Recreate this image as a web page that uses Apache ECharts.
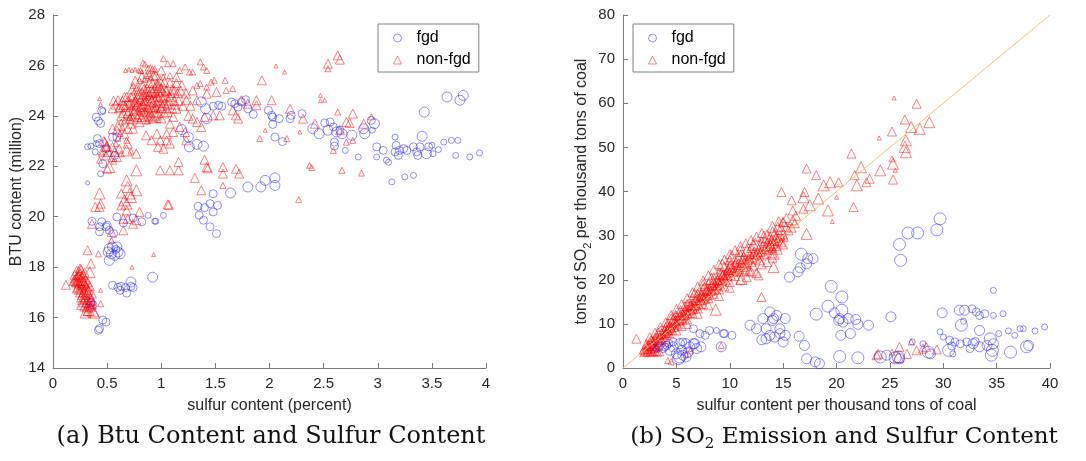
<!DOCTYPE html>
<html>
<head>
<meta charset="utf-8">
<script src="https://cdn.jsdelivr.net/npm/echarts@6/dist/echarts.min.js"></script>
<style>html,body{margin:0;padding:0;background:#fff;}#c{width:1086px;height:461px;}</style>
</head>
<body>
<div id="c"></div>
<script>
// ---- DATA ----  [x, y, weight]
const seriesNames = ['fgd', 'non-fgd'];
const leftXTicks = [0, 0.5, 1, 1.5, 2, 2.5, 3, 3.5, 4];
const leftYTicks = [14, 16, 18, 20, 22, 24, 26, 28];
const rightXTicks = [0, 5, 10, 15, 20, 25, 30, 35, 40];
const rightYTicks = [0, 10, 20, 30, 40, 50, 60, 70, 80];

const leftFgd = [
[0.32,22.77,2],[0.35,22.8,2],[0.40,22.9,2],[0.41,23.1,3],[0.39,22.57,2],[0.40,23.95,3],[0.42,23.8,3],[0.44,23.7,3],[0.45,24.2,3],[0.46,24.2,2],[0.43,22.9,3],[0.46,22.1,3],[0.44,21.7,2],[0.32,21.34,1],[0.49,22.7,3],[0.55,23.16,3],[0.59,23.16,3],[0.57,22.43,3],
[0.36,19.82,3],[0.43,19.6,3],[0.45,19.8,3],[0.49,19.6,3],[0.5,19.66,3],[0.43,19.4,3],[0.52,19.46,3],[0.56,19.33,3],[0.59,19.99,3],[0.65,19.75,3],[0.74,19.95,3],[0.82,19.8,3],[0.88,20.05,2],[0.94,19.82,2],[0.95,19.82,2],[1.02,20.05,2],
[0.52,18.73,4],[0.55,18.8,4],[0.59,18.8,4],[0.60,18.6,4],[0.54,18.53,4],[0.52,18.27,4],[0.62,18.53,4],[0.57,18.47,4],[0.51,18.6,4],[0.58,18.7,3],
[0.55,17.28,3],[0.6,17.2,3],[0.63,17.24,3],[0.62,17.08,3],[0.67,17.19,3],[0.68,16.97,3],[0.72,17.41,4],[0.74,17.19,3],[0.72,17.24,3],[0.92,17.6,4],
[0.35,16.6,3],[0.37,16.5,3],[0.46,15.9,3],[0.49,15.82,3],[0.42,15.5,3],[0.43,15.56,3],
[1.34,20.41,3],[1.40,20.36,3],[1.45,20.52,3],[1.48,20.19,3],[1.52,20.45,3],[1.48,20.91,3],[1.35,20.06,3],[1.39,19.86,3],[1.45,19.6,3],[1.51,19.33,3],[1.64,20.94,4],[1.80,21.18,4],[1.92,21.18,4],[1.96,21.44,4],[2.05,21.54,4],[2.05,21.24,4],
[1.19,23.45,4],[1.25,23.16,4],[1.26,22.77,4],[1.33,22.87,4],[1.39,22.8,4],[1.37,24.55,4],[1.41,24.28,4],[1.42,23.89,4],[1.48,24.38,3],[1.53,24.42,3],[1.56,24.38,3],[1.65,24.55,3],[1.68,24.48,3],[1.71,24.35,3],[1.74,24.55,3],[1.78,24.64,3],[1.80,24.28,3],[1.85,24.06,3],[1.99,24.22,3],[2.02,24.02,3],[2.03,23.95,3],[2.03,23.66,3],[2.05,23.16,3],[2.09,23.89,3],[2.12,22.98,3],[2.19,23.89,3],[2.20,24.02,3],[2.30,24.09,3],
[2.40,23.49,4],[2.46,23.29,4],[2.51,23.72,3],[2.56,23.76,3],[2.54,23.43,4],[2.59,23.56,3],[2.62,23.36,4],[2.65,23.43,3],[2.67,23.29,4],[2.60,22.96,3],[2.60,22.8,3],[2.76,23.23,4],[2.70,22.63,2],[2.87,23.49,4],[2.88,23.29,4],[2.94,23.82,3],[2.97,23.69,4],[2.95,23.43,2],[2.82,22.37,2],[2.99,22.77,3],[2.99,22.37,2],
[3.05,22.63,3],[3.08,22.24,2],[3.10,22.16,2],[3.13,21.38,2],[3.16,23.16,2],[3.17,22.83,3],[3.16,22.57,3],[3.19,22.43,3],[3.20,22.63,3],[3.24,22.7,3],[3.25,21.58,2],[3.27,22.63,3],[3.33,21.64,2],[3.33,22.77,3],[3.36,22.57,3],[3.37,22.43,3],[3.39,22.77,3],[3.41,23.19,4],[3.43,24.15,4],[3.45,22.5,4],[3.47,22.77,3],[3.50,22.83,2],[3.51,22.5,2],[3.56,22.66,2],[3.61,22.96,2],[3.64,24.75,4],[3.68,23.03,2],[3.72,22.43,2],[3.74,23.03,2],[3.76,24.62,4],[3.79,24.81,4],[3.85,22.37,2],[3.94,22.53,2]
];

const leftNonFgd = [
// low cluster
[0.12,17.3,3],[0.2,17.5,3],[0.22,17.6,3],[0.22,17.4,3],[0.24,17.7,3],[0.25,17.5,4],[0.26,17.3,3],[0.27,17.6,3],[0.28,17.4,4],[0.23,17.2,3],[0.25,17.0,3],[0.27,16.9,3],[0.29,17.1,3],[0.3,17.5,3],[0.3,16.8,3],[0.32,16.7,3],[0.33,16.9,3],[0.34,16.6,3],[0.35,16.8,3],[0.36,16.5,3],[0.28,16.6,3],[0.26,16.5,3],[0.31,16.4,3],[0.33,16.3,4],[0.38,16.2,4],[0.24,17.9,2],[0.21,17.4,3],[0.29,17.8,3],[0.31,17.2,3],[0.26,17.9,3],[0.23,17.65,3],[0.27,17.25,3],[0.32,17.0,3],[0.35,16.7,3],[0.37,16.6,2],[0.3,16.95,3],
[0.21,17.55,3],[0.24,17.35,3],[0.26,17.15,3],[0.28,17.0,3],[0.29,16.75,3],[0.31,16.6,3],[0.25,17.75,3],[0.27,17.45,3],[0.33,17.1,3],[0.34,16.45,3],[0.23,17.45,3],[0.29,17.35,3],
[0.19,17.45,3],[0.2,17.7,3],[0.22,17.85,3],[0.25,17.95,3],[0.28,17.7,3],[0.3,17.3,3],[0.32,17.4,3],[0.24,17.1,3],[0.26,16.8,3],[0.29,16.45,3],[0.32,16.25,3],[0.35,16.4,3],[0.36,16.95,3],[0.34,17.25,3],[0.22,17.15,3],[0.27,16.7,3],[0.3,16.2,4],[0.37,16.25,4],[0.33,16.55,3],
[0.32,18.67,3],[0.35,18.14,3],[0.34,17.8,4],[0.42,18.53,2],[0.44,16.55,2],[0.44,17.08,1],
// middle left
[0.36,19.72,3],[0.39,20.39,3],[0.43,20.92,4],[0.44,20.52,3],[0.43,20.39,3],
[0.48,22.96,3],[0.49,22.77,3],[0.46,22.63,3],[0.51,22.57,3],[0.49,22.43,3],[0.45,22.5,2],[0.52,21.97,4],[0.5,21.9,3],[0.55,22.77,3],[0.57,22.57,3],[0.59,22.37,3],[0.55,22.37,3],[0.43,22.24,2],[0.43,24.68,1],[0.44,24.46,1],[0.47,23.0,3],[0.5,22.8,3],
[0.60,24.62,3],[0.62,24.35,3],[0.65,24.42,3],[0.68,24.75,3],
[0.59,23.43,3],[0.55,23.49,3],[0.6,23.62,3],[0.63,23.76,2],[0.66,23.29,3],[0.68,23.03,2],[0.69,23.49,3],[0.72,23.69,3],[0.74,23.49,3],[0.71,23.89,3],[0.69,24.09,3],
[0.68,22.63,4],[0.77,22.5,3],[0.77,21.84,4],[0.68,21.44,4],[0.69,21.18,4],[0.63,20.92,3],[0.71,20.92,4],[0.77,21.05,4],[0.66,20.65,4],[0.72,20.78,4],[0.63,20.45,3],[0.68,20.52,4],[0.68,20.25,3],[0.65,19.92,3],[0.69,19.92,3],[0.74,19.72,3],[0.80,20.19,3],[0.77,19.86,3],[0.65,19.46,3],[0.54,19.06,2],[0.54,19.4,3],[1.06,20.49,3],[1.07,20.47,3],[0.93,18.5,1],[0.73,18.0,1],
[0.58,22.9,2],[0.6,23.1,2],[0.62,23.3,2],[0.64,23.55,2],[0.66,23.8,2],[0.61,22.7,3],[0.56,22.2,2],[0.63,22.5,2],[0.69,22.9,3],[0.72,22.6,2],
// dense core
[0.70,24.2,3],[0.72,24.5,3],[0.74,24.8,3],[0.75,24.1,4],[0.77,24.4,3],[0.78,24.7,4],[0.79,25.0,3],[0.8,24.3,4],[0.81,24.6,3],[0.82,24.9,4],[0.83,25.2,3],[0.84,24.2,3],[0.85,24.5,4],[0.86,24.8,3],[0.87,25.1,3],[0.88,24.0,3],[0.89,24.4,4],[0.9,24.7,3],[0.91,25.0,4],[0.92,25.3,3],[0.93,24.3,3],[0.94,24.6,4],[0.95,24.9,3],[0.96,25.2,3],[0.97,24.1,3],[0.98,24.5,3],[0.99,24.8,4],[1.0,25.1,3],[1.01,24.4,3],[1.02,24.7,3],[1.04,25.0,3],[1.05,24.3,3],[1.07,24.6,3],[1.09,24.9,3],
[0.73,24.35,2],[0.76,24.65,2],[0.79,24.25,2],[0.83,24.55,2],[0.86,24.35,2],[0.88,24.75,2],[0.91,24.45,2],[0.93,24.85,2],[0.96,24.55,2],[0.98,24.25,2],[0.84,24.9,2],[0.8,25.4,2],[0.77,25.1,2],[0.74,25.2,2],[0.85,25.45,2],[0.9,25.5,2],[0.95,25.6,3],[0.82,23.95,3],[0.92,23.9,3],[0.87,23.8,2],[0.78,23.95,3],[0.71,23.95,2],[0.97,23.85,2],[1.03,24.1,3],[1.1,24.3,3],[1.12,24.6,3],[1.15,24.9,3],[1.14,25.3,3],[1.08,25.3,3],[0.99,25.4,3],[0.86,25.6,2],[0.81,25.8,2],[0.88,25.9,2],[0.94,25.85,2],[0.69,24.6,3],[0.67,24.35,3],[0.65,24.1,3],[0.72,24.0,3],
[0.70,24.45,3],[0.72,24.75,3],[0.73,25.05,3],[0.75,24.55,3],[0.76,24.25,4],[0.78,24.45,3],[0.79,24.85,3],[0.8,24.05,3],[0.81,24.35,3],[0.82,24.75,3],[0.83,24.4,4],[0.84,25.05,3],[0.85,24.15,3],[0.86,24.6,3],[0.87,24.95,3],[0.88,24.3,3],[0.89,24.85,3],[0.9,24.1,3],[0.91,24.6,4],[0.92,24.95,3],[0.93,24.15,3],[0.94,25.1,3],[0.95,24.35,3],[0.96,24.75,3],[0.97,25.0,3],[0.98,24.65,4],[1.0,24.3,3],[1.01,24.95,3],[1.03,24.5,3],[1.04,24.8,3],[1.06,24.45,3],[1.08,24.75,3],[1.1,25.05,3],[1.12,25.0,3],[1.13,24.45,3],[1.16,24.6,3],[1.18,25.0,3],[1.2,24.4,3],[1.25,24.0,3],[1.27,24.4,3],[0.74,23.9,4],[0.8,23.75,3],[0.85,23.9,4],[0.9,23.95,3],[0.95,24.05,4],[1.0,23.9,3],[0.63,24.0,3],[0.61,24.3,3],[0.64,24.6,3],[0.66,24.75,3],[0.58,24.45,3],[0.56,24.6,3],[0.55,24.3,3],[0.76,25.4,3],[0.82,25.55,3],[0.89,25.3,3],[0.93,25.6,3],[0.98,25.2,3],[1.03,25.35,3],[0.9,25.85,3],[0.85,26.05,2],[1.0,25.8,3],
[0.67,25.8,1],[0.7,25.85,1],[0.73,25.8,1],[0.76,25.85,1],[0.79,25.8,1],[0.82,25.75,1],
// upper band
[0.83,26.1,2],[1.02,26.27,2],[1.06,26.07,2],[1.11,26.07,2],[1.22,25.94,2],[1.36,26.14,2],[1.39,25.94,2],[1.42,25.8,2],[1.46,25.34,2],[1.29,25.74,2],[1.26,25.74,2],[1.17,25.8,2],[1.08,25.6,2],[1.02,25.54,2],[0.92,25.87,2],[0.89,25.67,2],[0.96,25.28,3],[1.05,25.0,3],[1.14,25.54,3],[1.19,25.21,3],[1.23,24.88,3],[1.29,25.01,3],[1.33,25.21,2],[1.36,25.28,2],[1.42,25.14,2],[1.49,25.41,2],[1.59,25.41,2],[1.60,25.01,2],[1.66,25.08,2],[1.74,24.62,3],[1.88,24.62,3],[1.93,25.41,3],[2.02,24.62,3],[2.06,25.98,1],[2.14,25.74,1],[2.19,24.28,3],[2.31,23.89,3],[2.42,23.69,3],[2.47,24.81,1],[2.51,24.62,1],[2.54,26.07,3],[2.54,25.87,2],[2.63,26.4,3],[2.65,26.23,3],[2.63,24.15,2],[2.77,24.09,3],[2.71,23.76,3],[2.74,23.72,3],[2.65,23.43,3],[2.71,22.96,2],[2.77,23.03,2],[2.87,23.69,3],[2.94,23.96,2],[2.85,21.73,2],[2.67,21.84,2],[2.37,22.04,2],[2.39,21.95,2],[2.27,20.68,2],[1.91,23.1,2],[1.96,23.43,1],[2.16,23.1,2],[2.28,23.36,1],[2.59,22.63,2],[2.47,24.6,1],
// mid area
[0.99,21.84,3],[1.08,21.84,3],[1.16,21.84,3],[1.16,22.17,3],[1.31,21.54,3],[1.37,21.05,3],[1.40,22.26,3],[1.42,21.97,3],[1.43,21.92,3],[1.57,21.97,3],[1.57,21.71,3],[1.57,21.24,2],[1.69,21.9,3],[1.72,21.71,3],[1.23,23.03,3],[1.22,23.36,3],[1.05,23.29,3],[1.05,23.03,3],[0.99,23.03,3],[0.97,22.77,3],[1.02,22.7,3],[1.08,22.9,3],[0.91,23.03,3],[0.86,23.23,3],[0.96,23.29,3],[1.11,23.36,3],[1.17,23.56,3],[1.29,23.89,3],[1.33,23.76,3],[1.37,23.56,3],[1.40,23.96,3],[1.48,24.02,3],[1.54,24.02,3],[1.11,23.96,3],[1.06,24.15,3],[1.14,24.28,3],[1.23,24.62,3],[1.08,23.69,3],[1.33,24.62,3],[1.42,24.88,3],[1.51,24.95,3],[1.66,24.22,3],[1.69,24.02,3],[1.71,23.89,3],[1.80,24.48,3],[1.88,24.42,3]
];

const rightFgd = [
[29.7,33.8,5],[29.4,31.3,5],[27.6,30.6,5],[26.7,30.6,5],[25.9,28.0,5],[26.0,24.4,5],
[16.7,25.8,5],[17.3,24.8,4],[17.8,24.8,4],[17.2,23.6,4],[16.6,22.7,4],[16.4,21.8,4],[15.6,20.6,4],
[19.5,18.5,5],[20.5,16.1,5],[19.2,14.0,5],[20.5,13.1,5],[19.8,12.5,4],[18.1,12.2,5],[20.3,11.2,4],[20.6,10.4,4],[21.1,11.2,4],[21.8,11.0,4],[22.0,9.9,4],[23.0,9.7,4],[20.4,7.4,4],[21.3,7.8,4],[20.2,10.8,4],
[25.1,11.6,4],
[29.9,12.5,4],[31.5,13.1,4],[32.0,13.1,4],[32.7,13.4,3],[33.1,12.7,3],[33.4,11.9,3],[33.9,12.3,3],[34.7,17.6,2],[34.7,11.9,2],[35.6,12.3,2],[31.7,9.7,5],[33.4,8.5,4],[34.4,6.6,5],[35.2,7.8,2],[36.1,8.4,2],[36.7,7.4,2],[37.2,8.9,2],[37.5,8.9,2],[38.6,8.4,2],[39.5,9.3,2],[29.7,8.2,2],[30.0,7.0,2],[30.6,6.3,3],[31.1,5.9,3],[31.6,5.5,3],[32.2,5.9,3],[32.8,5.5,4],[33.4,4.8,4],[34.1,5.1,4],[34.7,5.5,4],[32.5,4.4,3],[30.5,4.0,5],[30.9,3.2,2],[34.6,4.0,5],[34.5,2.9,5],[36.3,3.6,5],[37.8,4.8,5],[38.0,5.1,4],[31.9,10.6,2],[30.8,5.0,3],[33.0,6.0,3],
[27.1,5.9,2],[28.1,5.5,2],[28.6,3.6,5],[28.8,3.2,4],[25.8,2.5,5],[25.5,2.3,5],[25.9,2.1,4],[24.7,2.9,4],[24.1,2.5,5],[22.0,2.3,5],[20.3,2.6,5],[18.4,1.0,4],[18.0,1.4,4],[17.2,2.1,4],[17.0,5.1,4],[16.5,7.2,4],
[11.9,9.7,4],[12.5,8.9,4],[13.1,11.2,4],[13.75,12.7,4],[14.1,11.2,4],[14.4,11.9,4],[15.2,11.2,4],[13.4,8.9,4],[14.7,8.9,4],[13.75,7.4,4],[14.2,7.0,4],[14.7,7.8,4],[15.2,7.4,4],[15.0,5.9,4],[13.4,6.6,4],[13.0,6.4,4],[14.0,10.8,4],
[6.6,8.9,3],[7.2,7.8,3],[7.7,7.4,3],[8.1,8.5,3],[8.75,8.5,2],[9.4,7.8,3],[9.5,7.8,3],[10.2,7.4,3],[9.2,4.8,4],[7.3,4.8,4],[6.7,5.5,4],[5.9,5.5,4],[5.3,5.5,4],[4.7,4.8,4],[4.1,5.1,3],[3.75,4.4,3],[4.4,4.0,4],[5.0,3.2,4],[5.3,2.5,5],[5.2,2.1,5],[5.6,2.9,4],[6.1,3.6,4],[6.25,4.8,4],[6.6,5.5,4],[4.7,5.9,3],[5.6,5.9,3],[3.4,4.8,3],[3.1,4.4,2],[6.9,4.4,4],[5.5,4.0,4],[5.9,2.5,4],[4.3,5.6,3],[3.9,4.8,3]
];

const rightNonFgd = [
[1.25,6.65,3],[1.8,3.8,2],[2.0,4.3,3],[2.1,3.9,3],[2.2,4.8,3],[2.3,4.4,3],[2.4,5.2,3],[2.5,4.6,2],[2.6,5.5,3],[2.7,5.0,3],[2.8,6.0,3],[2.9,5.4,3],[3.0,6.4,3],[3.1,5.8,2],[3.2,6.9,3],[3.3,6.3,3],[3.4,7.3,2],[2.3,3.7,3],[2.8,3.6,3],[3.2,3.7,3],[2.0,3.6,3],[2.6,3.8,3],[3.0,3.9,3],[3.4,3.8,3],[2.5,6.2,2],[3.0,7.2,2],[3.5,6.8,3],[3.6,7.8,3],[3.7,7.2,2],[3.9,8.4,3],[4.0,7.9,3],[4.1,9.0,2],[4.2,8.5,3],[4.4,9.6,3],[4.5,9.0,3],[4.6,10.3,3],[4.7,9.5,2],[4.9,10.8,3],[5.0,10.1,3],[5.1,11.4,2],[5.3,10.9,3],[5.4,12.0,3],[5.5,11.3,3],[5.6,12.6,2],[5.8,12.1,3],[5.9,13.0,3],[6.0,12.5,3],[6.1,13.6,2],[6.3,13.2,3],[6.4,14.3,3],[6.5,13.7,3],[6.6,14.9,2],[6.8,14.2,3],[6.9,15.4,3],[7.0,14.8,3],[7.1,16.0,2],[7.3,15.4,3],[7.4,16.6,3],[7.5,16.0,3],[7.6,17.1,2],[7.8,16.5,3],[7.9,17.8,3],[8.0,17.1,3],[8.1,18.3,2],[8.3,17.6,3],[8.4,18.9,3],[8.5,18.2,3],[8.6,19.5,2],[8.8,18.8,3],[8.9,20.0,3],[9.0,19.3,3],[9.1,20.6,2],[9.3,20.0,3],[9.4,21.2,3],[9.5,20.5,3],[9.6,21.7,2],[9.8,21.0,3],[9.9,22.3,3],[10.0,21.6,3],[10.2,22.8,3],[10.4,22.2,3],[10.5,23.4,3],[10.7,22.8,3],[10.8,24.0,2],[11.0,23.3,3],[11.2,24.6,3],[11.4,23.9,3],[11.5,25.2,2],[11.7,24.5,3],[11.9,25.8,3],[12.1,25.1,3],[12.3,26.4,3],[12.5,25.7,3],[12.7,27.0,3],[12.9,26.3,3],[13.1,27.6,3],[13.3,27.0,3],[13.5,28.3,3],[13.7,27.6,3],[13.9,28.9,3],[14.1,28.2,3],[14.3,29.6,3],[14.5,28.9,3],[14.7,30.2,3],[14.9,29.6,2],
[5.0,12.2,2],[6.0,14.8,2],[7.0,17.2,2],[8.0,19.6,2],[9.0,22.0,2],[10.0,24.5,3],[11.0,26.0,2],[12.0,27.2,3],[13.0,29.0,2],[14.0,31.0,3],[4.5,11.2,3],[3.5,8.5,3],[8.5,20.8,2],[9.5,23.0,3],[7.5,18.3,2],[6.5,16.2,2],[13.5,30.3,3],[14.5,32.0,3],[15.0,33.0,3],
[6.0,11.0,3],[7.5,14.5,3],[9.0,17.8,3],[10.5,20.8,3],[11.8,22.0,3],[12.5,21.5,3],[13.5,24.0,3],[14.0,25.0,3],[11.0,21.5,2],[8.5,16.8,3],[12.2,23.2,3],[5.5,9.5,3],
[2.2,5.5,3],[2.4,4.0,3],[2.6,4.3,3],[2.7,6.3,3],[2.9,4.6,3],[3.1,4.9,3],[3.3,5.3,3],[3.5,5.9,3],[3.6,6.4,3],[3.8,7.0,3],[3.9,7.6,3],[4.1,8.1,3],[4.3,7.9,3],[4.3,9.1,3],[4.6,8.6,3],[4.8,9.3,3],[4.8,10.4,3],[5.1,9.8,3],[5.2,10.7,3],[5.3,11.8,3],[5.6,11.0,3],[5.7,11.9,3],[5.8,13.1,3],[6.1,12.2,3],[6.2,13.0,3],[6.3,14.2,3],[6.6,13.3,3],[6.7,14.1,3],[6.8,15.3,3],[7.1,14.4,3],[7.2,15.3,3],[7.3,16.4,3],[7.6,15.6,3],[7.7,16.3,3],[7.8,17.5,3],[8.1,16.6,3],[8.2,17.5,3],[8.3,18.7,3],[8.6,17.8,3],[8.7,18.6,3],[8.8,19.9,3],[9.1,18.9,3],[9.2,19.7,3],[9.3,21.0,3],[9.6,20.0,3],[9.7,20.8,3],[9.8,22.2,3],[10.1,21.0,3],[10.1,23.5,3],[10.3,21.8,3],[10.6,22.0,3],[10.6,24.0,3],[10.9,22.5,3],[11.1,23.8,3],[11.3,22.9,3],[11.3,25.3,3],[11.6,23.6,3],[11.8,24.8,3],[12.0,24.0,3],[12.2,25.9,3],[12.4,24.8,3],[12.6,26.2,3],[12.8,25.5,3],[13.0,26.6,3],[13.2,25.9,3],[13.4,27.4,3],[13.6,26.8,3],[13.8,28.0,3],[14.0,27.2,3],[14.2,28.8,3],[14.4,27.7,3],[14.6,29.4,3],[14.8,28.5,3],[15.0,30.3,3],[15.2,29.4,2],[10.0,19.5,3],[9.5,18.5,3],[8.0,15.8,3],[7.0,13.5,3],[6.5,12.4,3],[11.5,22.3,3],[12.8,24.4,3],[13.3,28.8,3],[12.2,27.9,4],[11.0,26.5,4],[10.2,25.3,4],[9.3,23.4,4],[8.3,20.2,4],[7.5,19.0,3],[6.7,17.0,3],[5.8,14.0,3],[4.9,12.0,3],[4.2,10.2,3],[14.8,31.5,4],[14.2,30.3,4],[13.8,29.5,4],
[2.5,7.0,3],[3.0,8.0,3],[3.5,9.3,3],[4.0,10.4,3],[4.5,12.0,3],[5.0,13.4,3],[5.5,14.5,3],[6.0,15.8,3],[6.5,17.2,3],[7.0,18.5,3],[7.5,19.8,3],[8.0,21.0,3],[8.5,22.3,3],[9.0,23.5,3],[9.5,24.6,3],[10.0,25.8,3],[10.5,26.7,3],[11.0,27.6,3],[11.5,28.3,3],[12.0,29.0,3],[12.5,29.8,3],[13.0,30.6,3],
[3.0,4.6,3],[4.0,6.5,3],[5.0,8.5,3],[6.0,10.0,3],[7.0,12.3,3],[8.0,14.2,3],[9.0,16.3,3],[10.0,18.2,3],[11.0,20.0,3],[12.0,21.8,3],[13.0,23.5,3],[14.0,26.0,3],[14.5,26.8,3],[15.0,28.0,3],
[3.3,7.8,4],[4.0,9.0,4],[4.7,10.9,4],[5.4,12.9,4],[6.1,14.3,4],[6.9,16.2,4],[7.6,18.0,4],[8.4,19.5,4],[9.2,21.4,4],[10.0,22.9,4],[10.8,24.9,4],[11.6,26.6,4],[12.4,28.2,4],[13.2,29.8,4],[14.0,32.0,4],[15.3,34.0,3],[14.6,33.3,3],[15.8,31.8,3],[16.1,32.8,3],
[8.69,13.2,4],[11.1,20.2,4],[11.6,20.6,3],[14.1,22.9,4],[12.7,21.0,3],[14.1,25.9,4],[13.8,27.8,4],
[14.84,39.9,3],[15.8,38.0,3],[17.2,45.2,3],[18.1,43.7,3],[17.2,30.4,4],[12.97,16.1,3],[21.4,48.6,3],[24.0,52.1,1],[25.2,53.6,3],[25.4,61.2,1],[26.4,56.3,3],[27.5,59.9,3],[27.0,54.6,4],[27.8,54.2,4],[28.7,55.7,4],[26.5,51.6,4],[26.4,50.1,4],[26.5,48.9,4],[25.3,46.3,4],[25.2,47.4,2],[25.5,44.8,1],[25.3,42.7,3],[24.1,44.8,4],[23.1,42.9,3],[22.8,42.1,3],[22.3,45.5,4],[21.7,43.7,3],[21.9,41.4,4],[21.6,36.5,3],[20.2,42.1,3],[19.4,42.1,4],[18.8,41.4,4],[20.0,38.7,1],[19.2,35.7,4],[19.6,33.2,1],[18.3,38.4,4],[16.9,38.7,4],[17.0,39.9,3],[17.5,36.9,4],[16.9,36.1,3],[15.9,35.7,3],[15.9,33.5,3],[15.0,33.1,3],[15.5,31.2,3],[16.2,34.5,3],[15.3,32.0,3],
[4.2,1.7,2],[4.5,1.4,2],[9.2,5.1,2],[25.9,4.8,3],[25.8,2.5,4],[26.6,3.2,3],[27.0,5.9,2],[27.5,4.0,3],[28.1,4.4,3],[28.4,4.8,3],[29.4,4.2,3],[23.9,3.2,3],[23.75,2.9,3],[25.2,3.6,2],[6.3,3.9,2],[5.9,3.0,2]
];

const diagX = [0, 40];
const diagY = [0, 80];

// ---- CHART ----
const CIRCLE_SIZES = [0, 4, 6, 8, 10, 12];
const TRI_SIZES = [0, 4, 6, 9, 11, 13];
const BLUE = 'rgba(20,20,255,0.6)';
const RED = 'rgba(255,0,0,0.62)';
const AX = '#7a7a7a';
const TXT = '#262626';
const FONT = '"Liberation Sans", Arial, Helvetica, sans-serif';
const SERIF = '"DejaVu Serif", serif';

function axisCommon(ticks) {
  return {
    min: ticks[0], max: ticks[ticks.length - 1], interval: ticks[1] - ticks[0],
    axisLine: { show: true, onZero: false, lineStyle: { color: AX, width: 1 } },
    axisTick: { show: true, inside: true, length: 5, lineStyle: { color: AX } },
    axisLabel: { color: TXT, fontSize: 15, fontFamily: FONT, margin: 8 },
    splitLine: { show: false },
    nameLocation: 'middle',
    nameTextStyle: { color: TXT, fontSize: 16, fontFamily: FONT }
  };
}

function scatter(name, data, xi, sym, color, sizes) {
  return {
    type: 'scatter', name: name, xAxisIndex: xi, yAxisIndex: xi,
    data: data, symbol: sym,
    symbolSize: function (v) { return sizes[v[2]]; },
    itemStyle: { color: 'rgba(0,0,0,0)', borderColor: color, borderWidth: 1 },
    emphasis: { disabled: true }, animation: false, large: false
  };
}

function legendCfg(left) {
  return {
    left: left, top: 24, orient: 'vertical',
    padding: [6, 8, 4, 15], itemGap: 6, itemWidth: 8, itemHeight: 8,
    borderColor: '#808080', borderWidth: 1, backgroundColor: '#fff',
    textStyle: { color: '#000', fontSize: 16, fontFamily: FONT, lineHeight: 16, padding: [0, 0, 0, 10] },
    data: [
      { name: seriesNames[0], icon: 'circle', itemStyle: { color: 'rgba(0,0,0,0)', borderColor: BLUE, borderWidth: 1 } },
      { name: seriesNames[1], icon: 'triangle', itemStyle: { color: 'rgba(0,0,0,0)', borderColor: RED, borderWidth: 1 } }
    ],
    selectedMode: false
  };
}

const chart = echarts.init(document.getElementById('c'), null, { renderer: 'canvas' });
const diagData = diagX.map((x, i) => [x, diagY[i]]);

const option = {
  backgroundColor: '#fff',
  animation: false,
  grid: [
    { left: 53, right: 600, top: 15, bottom: 93 },
    { left: 623, right: 36, top: 15, bottom: 93 }
  ],
  xAxis: [
    Object.assign(axisCommon(leftXTicks), { gridIndex: 0, name: 'sulfur content (percent)', nameGap: 30 }),
    Object.assign(axisCommon(rightXTicks), { gridIndex: 1, name: 'sulfur content per thousand tons of coal', nameGap: 30 })
  ],
  yAxis: [
    Object.assign(axisCommon(leftYTicks), { gridIndex: 0, name: 'BTU content (million)', nameGap: 25 }),
    Object.assign(axisCommon(rightYTicks), { gridIndex: 1, name: '{a|tons of SO}{s|2}{a| per thousand tons of coal}', nameGap: 30,
      nameTextStyle: { color: TXT, fontFamily: FONT, rich: {
        a: { fontSize: 16, fontFamily: FONT, color: TXT, lineHeight: 22, verticalAlign: 'middle' },
        s: { fontSize: 11, fontFamily: FONT, color: TXT, lineHeight: 11, verticalAlign: 'bottom' } } } })
  ],
  legend: [legendCfg(378), legendCfg(633)],
  series: [
    scatter(seriesNames[1], leftNonFgd, 0, 'triangle', RED, TRI_SIZES),
    scatter(seriesNames[0], leftFgd, 0, 'circle', BLUE, CIRCLE_SIZES),
    scatter(seriesNames[1], rightNonFgd, 1, 'triangle', RED, TRI_SIZES),
    scatter(seriesNames[0], rightFgd, 1, 'circle', BLUE, CIRCLE_SIZES),
    { type: 'line', xAxisIndex: 1, yAxisIndex: 1, data: diagData, showSymbol: false, symbol: 'none',
      lineStyle: { color: '#f3c36e', width: 1 }, z: 5, silent: true, animation: false }
  ],
  graphic: [
    { type: 'text', x: 271, y: 437, style: { text: '(a) Btu Content and Sulfur Content', align: 'center', verticalAlign: 'middle',
      fontSize: 24, fontFamily: SERIF, fill: '#111' } },
    { type: 'text', x: 844, y: 437, style: { text: '{a|(b) SO}{s|2}{a| Emission and Sulfur Content}', align: 'center', verticalAlign: 'middle',
      fontSize: 23, fontFamily: SERIF, fill: '#111',
      rich: { a: { fontSize: 23, fontFamily: SERIF, lineHeight: 30, verticalAlign: 'middle', fill: '#111' },
              s: { fontSize: 15, fontFamily: SERIF, lineHeight: 15, verticalAlign: 'bottom', fill: '#111' } } } }
  ]
};
chart.setOption(option);
</script>
</body>
</html>
